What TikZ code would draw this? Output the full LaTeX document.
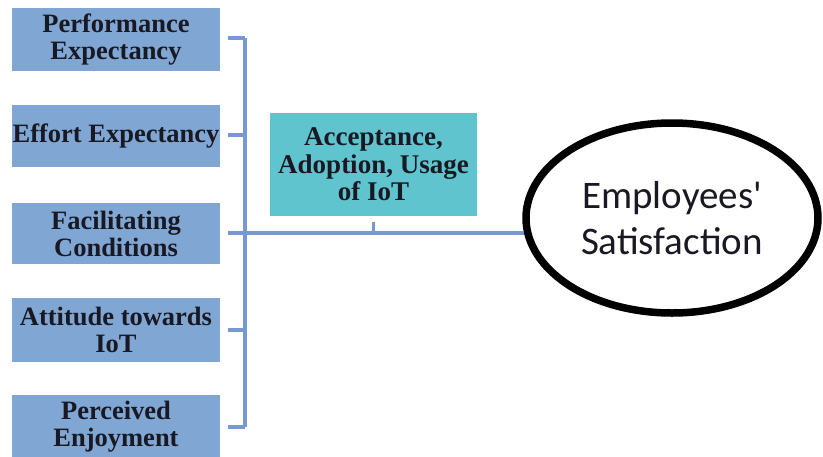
\documentclass[tikz,border=0pt]{standalone}
\usepackage{fontspec}
\setmainfont{Liberation Serif}
\newfontfamily\carl{Carlito}
\usetikzlibrary{shapes.geometric}
\definecolor{boxblue}{RGB}{128,167,212}
\definecolor{linkblue}{RGB}{118,152,212}
\definecolor{tealbox}{RGB}{96,196,206}
\definecolor{txt}{RGB}{25,25,35}
\begin{document}
\begin{tikzpicture}[x=1pt,y=-1pt,
  leftbox/.style={fill=boxblue,draw=none,minimum width=208pt,inner sep=0pt,align=center,
    font=\fontsize{26.5}{27}\selectfont\bfseries,text=txt},
  link/.style={draw=linkblue,line width=4pt}]
\useasboundingbox (0,0) rectangle (823,456);
\fill[white] (0,0) rectangle (823,456);
\node[leftbox,minimum height=63pt] (b1) at (116,39.5) {Performance\\Expectancy};
\node[leftbox,minimum height=62pt] (b2) at (116,136) {Effort Expectancy};
\node[leftbox,minimum height=61pt] (b3) at (116,233.5) {Facilitating\\Conditions};
\node[leftbox,minimum height=64pt] (b4) at (116,330) {Attitude towards\\IoT};
\node[leftbox,minimum height=64pt] (b5) at (116,427) {Perceived\\Enjoyment};
\node[fill=tealbox,minimum width=207pt,minimum height=103pt,inner sep=0pt,align=center,
  font=\fontsize{27}{27.5}\selectfont\bfseries,text=txt] (acc) at (373.5,164.5)
  {Acceptance,\\Adoption, Usage\\of IoT};
\node[ellipse,draw=black,line width=7.5pt,minimum width=292pt,minimum height=190pt,
  align=center,font=\carl\fontsize{39}{46}\selectfont,text=txt] (es) at (672,218)
  {Employees'\\Satisfaction};
\coordinate (vt) at (245,38);
\coordinate (vb) at (245,427);
\coordinate (ej) at (524,233);
\coordinate (tk) at (373,222);
\draw[link] (vt) -- (vb);
\draw[link] (228,38) -- (vt);
\draw[link] (228,135) -- (245,135);
\draw[link] (228,330) -- (245,330);
\draw[link] (228,427) -- (vb);
\draw[link] (228,233) -- (ej);
\draw[link,line width=3pt] (tk |- ej) -- (tk);
\end{tikzpicture}
\end{document}
